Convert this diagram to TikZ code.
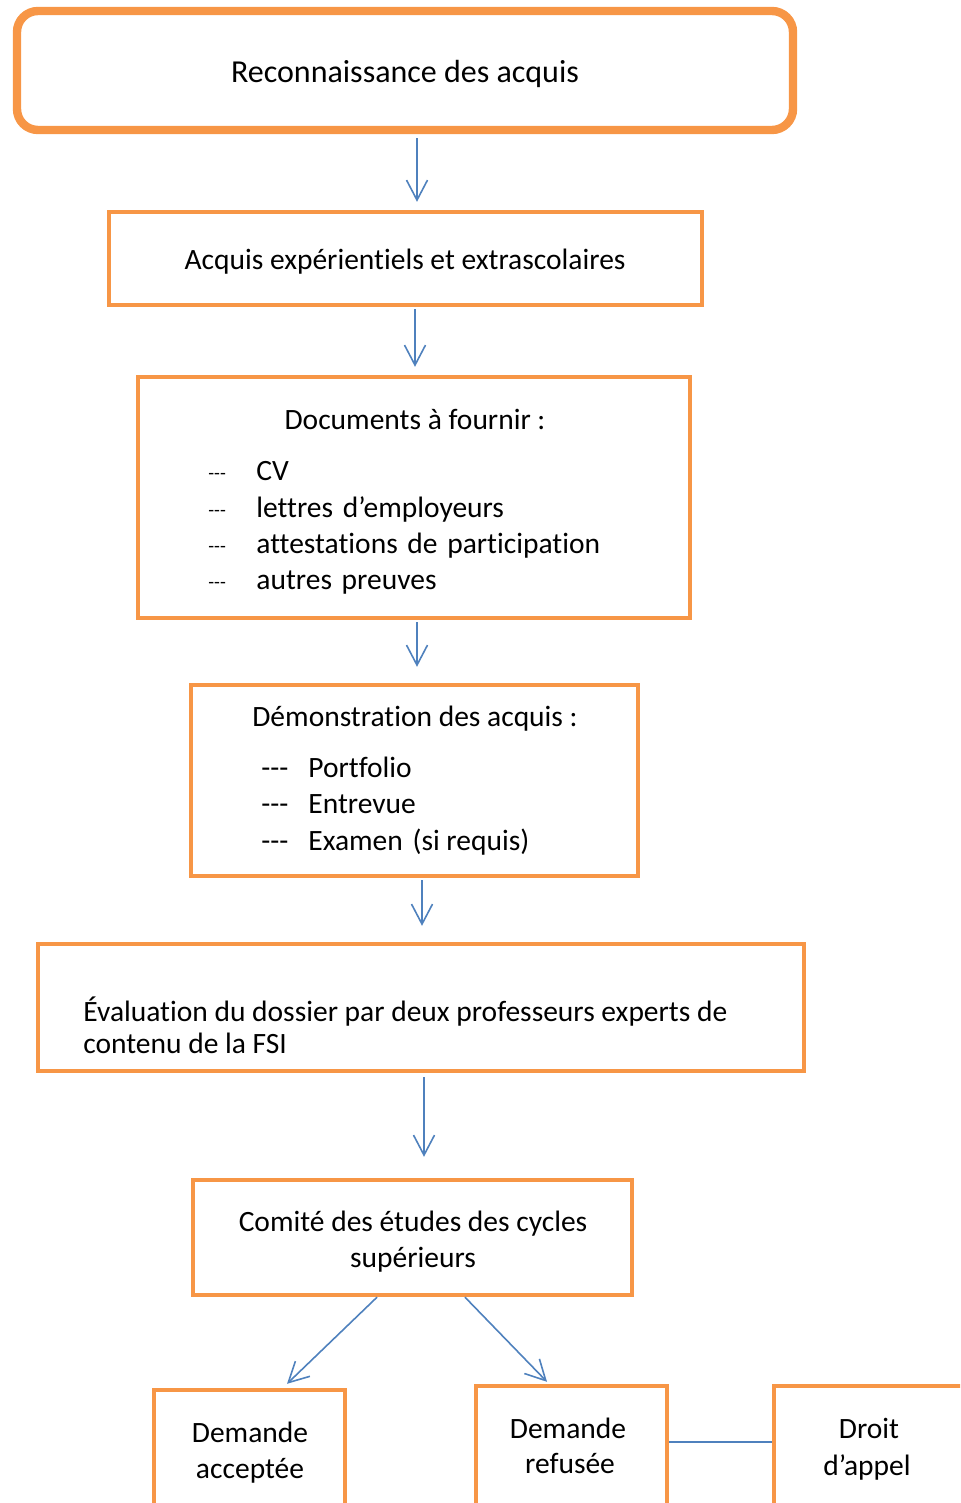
\documentclass[tikz,border=0pt]{standalone}
\usepackage{fontspec}
\setmainfont{Carlito}[Ligatures=NoCommon]
\usetikzlibrary{fit,arrows.meta}

\definecolor{boxorange}{HTML}{F79646}
\definecolor{linkblue}{HTML}{4F81BD}

\newcommand{\dashmark}{-{}-{}-}

\tikzset{
  box/.style={draw=boxorange, line width=2.2pt, inner sep=0pt},
  title/.style={anchor=base, inner sep=0pt},
  item/.style={anchor=base west, inner sep=0pt},
  smalldash/.style={item, font=\fontsize{9.5}{11}\selectfont},
  arr/.style={draw=linkblue, line width=0.8pt, -{Straight Barb[length=10pt,width=10.5pt]}},
  link/.style={draw=linkblue, line width=0.8pt}
}

\begin{document}
\begin{tikzpicture}[x=0.5pt, y=-0.5pt, font=\fontsize{14.75}{17}\selectfont]

\useasboundingbox (0,0) rectangle (960,1503);
\clip (0,0) rectangle (960,1503);

% draw boxes
\node[box, line width=4.2pt, rounded corners=10.5pt, fit={(17,11) (793,130)}] (reco) {};
\node[box, fit={(109,212) (702,305)}] (acquis) {};
\node[box, fit={(138,377) (690,618)}] (docs) {};
\node[box, fit={(191,685) (638,876)}] (demo) {};
\node[box, fit={(38,944) (804,1071)}] (eval) {};
\node[box, fit={(193,1180) (632,1295)}] (comite) {};
\node[box, fit={(154,1390) (345,1540)}] (accept) {};
\node[box, fit={(476,1386) (667,1540)}] (refus) {};
\node[box, fit={(774,1386) (1000,1540)}] (appel) {};

% texts of the boxes
\node[title, font=\fontsize{16}{19}\selectfont] (reco text) at (405,83) {Reconnaissance des acquis};
\node[title] (acquis text) at (405,270) {Acquis expérientiels et extrascolaires};

\node[title] (docs text) at (415,429) {Documents à fournir :};
\node[smalldash] (docs d1) at (208,479) {\dashmark};
\node[item] (docs t1) at (256,480) {CV};
\node[smalldash] (docs d2) at (208,516) {\dashmark};
\node[item] (docs t2) at (256,517) {lettres\hspace{1.5pt} d’employeurs};
\node[smalldash] (docs d3) at (208,552) {\dashmark};
\node[item] (docs t3) at (256,553) {attestations\hspace{1.5pt} de\hspace{1.5pt} participation};
\node[smalldash] (docs d4) at (208,588) {\dashmark};
\node[item] (docs t4) at (256,589) {autres\hspace{1.5pt} preuves};

\node[title] (demo text) at (415,726) {Démonstration des acquis :};
\node[item] (demo d1) at (261,777) {\dashmark};
\node[item] (demo t1) at (308,777) {Portfolio};
\node[item] (demo d2) at (261,813) {\dashmark};
\node[item] (demo t2) at (308,813) {Entrevue};
\node[item] (demo d3) at (261,850) {\dashmark};
\node[item] (demo t3) at (308,850) {Examen\hspace{1.5pt} (si requis)};

\node[item] (eval t1) at (83,1021) {Évaluation du dossier par deux professeurs experts de};
\node[item] (eval t2) at (83,1053) {contenu de la FSI};

\node[title] (comite t1) at (413,1231) {Comité des études des cycles};
\node[title] (comite t2) at (413,1267) {supérieurs};

\node[title] (accept t1) at (250,1442) {Demande};
\node[title] (accept t2) at (250,1478) {acceptée};
\node[title] (refus t1) at (568,1438) {Demande};
\node[title] (refus t2) at (570,1473) {refusée};
\node[title] (appel t1) at (869,1438) {Droit};
\node[title] (appel t2) at (867,1475) {d’appel};

% draw arrows
\draw[arr, shorten <=2pt, shorten >=4pt] ([xshift=6pt]reco.south) -- ([xshift=6pt]reco.south |- acquis.north);
\draw[arr, shorten <=1pt, shorten >=4pt] ([xshift=4.75pt]acquis.south) -- ([xshift=4.75pt]acquis.south |- docs.north);
\draw[arr, shorten <=1pt, shorten >=8pt] ([xshift=1.5pt]docs.south) -- ([xshift=1.5pt]docs.south |- demo.north);
\draw[arr, shorten <=1pt, shorten >=8pt] ([xshift=3.75pt]demo.south) -- ([xshift=3.75pt]demo.south |- eval.north);
\draw[arr, shorten <=2pt, shorten >=10.5pt] ([xshift=1.5pt]eval.south) -- ([xshift=1.5pt]eval.south |- comite.north);
\draw[arr] ([xshift=-17.75pt]comite.south) -- ([xshift=18.75pt,yshift=2pt]accept.north);
\draw[arr] ([xshift=26.25pt]comite.south) -- ([xshift=-12.25pt,yshift=1pt]refus.north);

% draw link to appeal
\draw[link] ([yshift=10.5pt]refus.east) -- ([yshift=10.5pt]appel.west);

\end{tikzpicture}
\end{document}
